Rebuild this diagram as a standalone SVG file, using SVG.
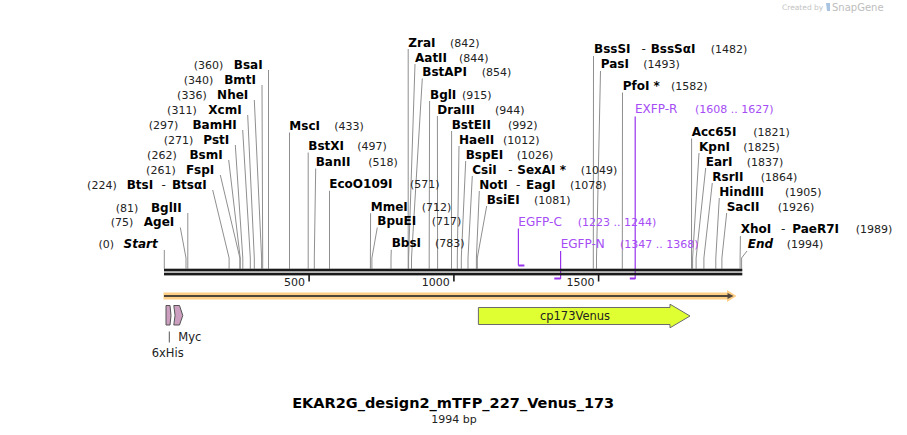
<svg xmlns="http://www.w3.org/2000/svg" width="907" height="435" viewBox="0 0 907 435">
<style>
.n{font-family:"DejaVu Sans",Verdana,sans-serif;font-size:12px;font-weight:bold;fill:#000}
.i{font-style:italic}
.p{font-family:"DejaVu Sans",Verdana,sans-serif;font-size:11px;fill:#222}
.d{font-family:"DejaVu Sans",Verdana,sans-serif;font-size:12px;fill:#222}
.e{text-anchor:end}
.l{stroke:#8f8f8f;stroke-width:1;fill:none}
.pt{font-family:"DejaVu Sans",Verdana,sans-serif;font-size:12px;fill:#A64DF5}
.pn{font-family:"DejaVu Sans",Verdana,sans-serif;font-size:11px;fill:#A64DF5}
.pl{stroke:#9933EE;stroke-width:1.2;fill:none}
.pb{fill:#9933EE}
.ft{font-family:"DejaVu Sans",Verdana,sans-serif;font-size:11.5px;fill:#222}
.tk{font-family:"DejaVu Sans",Verdana,sans-serif;font-size:11px;fill:#222}
</style>
<rect width="907" height="435" fill="#fff"/>
<g id="credit">
<text x="782" y="10" font-family="DejaVu Sans,sans-serif" font-size="7.5" fill="#c4c4c4">Created by</text>
<path d="M826,3 h4 v8 h-3 z" fill="#a9c4e0"/>
<text x="832" y="11" font-family="DejaVu Sans,sans-serif" font-size="10" fill="#bdbdbd">SnapGene</text>
</g>

<!-- connectors -->
<g id="connectors">
<path class="l" d="M164.3,250 V268.7"/>
<path class="l" d="M180.3,227.5 L186,258 V268.7"/>
<path class="l" d="M187.8,213 V268.7"/>
<path class="l" d="M212.7,190 L229.1,258 V268.7"/>
<path class="l" d="M220.3,175 L239.9,258 V268.7"/>
<path class="l" d="M228.7,160 L240.2,258 V268.7"/>
<path class="l" d="M235.3,145 L242.8,258 V268.7"/>
<path class="l" d="M242.7,130 L250.3,258 V268.7"/>
<path class="l" d="M247.7,115 L254.3,258 V268.7"/>
<path class="l" d="M254.3,100 L261.6,258 V268.7"/>
<path class="l" d="M262,85 L262.7,258 V268.7"/>
<path class="l" d="M268.5,70 V268.7"/>
<path class="l" d="M289.5,132.5 V268.7"/>
<path class="l" d="M308.2,152.5 V268.7"/>
<path class="l" d="M315.7,168.5 L314.3,258 V268.7"/>
<path class="l" d="M329.5,190.8 V268.7"/>
<path class="l" d="M370.6,213.2 L370.4,258 V268.7"/>
<path class="l" d="M377.3,227.5 L371.9,258 V268.7"/>
<path class="l" d="M391.3,249.8 L391,258 V268.7"/>
<path class="l" d="M408.2,49 V268.7"/>
<path class="l" d="M415,64 L408.6,258 V268.7"/>
<path class="l" d="M422.3,78.5 L411.5,258 V268.7"/>
<path class="l" d="M429.6,101 L429.2,258 V268.7"/>
<path class="l" d="M437.4,116 L437.6,258 V268.7"/>
<path class="l" d="M451.6,131 L451.5,258 V268.7"/>
<path class="l" d="M459,146 L457.3,258 V268.7"/>
<path class="l" d="M465.7,161 L461.3,258 V268.7"/>
<path class="l" d="M472.3,176 L468,258 V268.7"/>
<path class="l" d="M479.3,191 L476.4,258 V268.7"/>
<path class="l" d="M486.7,206 L477.3,258 V268.7"/>
<path class="l" d="M593.5,56 L593.3,258 V268.7"/>
<path class="l" d="M600.5,71 L596.5,258 V268.7"/>
<path class="l" d="M622.5,92.5 L622.3,258 V268.7"/>
<path class="l" d="M691.6,138.5 L691.5,258 V268.7"/>
<path class="l" d="M699,153 L692.6,258 V268.7"/>
<path class="l" d="M705.7,168 L696.1,258 V268.7"/>
<path class="l" d="M712.3,183 L703.9,258 V268.7"/>
<path class="l" d="M719.3,198 L715.8,258 V268.7"/>
<path class="l" d="M726.7,213 L721.9,258 V268.7"/>
<path class="l" d="M740.4,236 L740.1,258 V268.7"/>
<path class="l" d="M747,251 L741.6,258 V268.7"/>
<path class="pl" d="M518.4,228.5 V265.5"/>
<path class="pl" d="M560.6,251 V279"/>
<path class="pl" d="M635.2,116.5 V279"/>
<line x1="169.3" y1="331.5" x2="169.3" y2="342.5" stroke="#555" stroke-width="1"/>
</g>

<g id="primer-EGFP-C">
<rect class="pb" x="518.4" y="264.5" width="6" height="2"/>
<text class="pt" x="518.3" y="225.7">EGFP-C</text>
<text class="pn" x="577.7" y="225.7">(1223 .. 1244)</text>
</g>
<g id="primer-EGFP-N">
<rect class="pb" x="554.3" y="277.5" width="6.3" height="2"/>
<text class="pt" x="560.7" y="248.3">EGFP-N</text>
<text class="pn" x="620" y="248.3">(1347 .. 1368)</text>
</g>
<g id="primer-EXFP-R">
<rect class="pb" x="629.8" y="277.5" width="5.5" height="2"/>
<text class="pt" x="635" y="113.3">EXFP-R</text>
<text class="pn" x="695" y="113.3">(1608 .. 1627)</text>
</g>

<g id="backbone">
<rect x="164" y="268.7" width="578.3" height="2.7" fill="#1a1a1a"/>
<rect x="164" y="272.7" width="578.3" height="2.7" fill="#1a1a1a"/>
<rect x="308.3" y="275" width="1.6" height="6.5" fill="#1a1a1a"/>
<rect x="453.1" y="275" width="1.6" height="6.5" fill="#1a1a1a"/>
<rect x="597.8" y="275" width="1.6" height="6.5" fill="#1a1a1a"/>
<text class="tk e" x="305" y="285.5">500</text>
<text class="tk e" x="449.8" y="285.5">1000</text>
<text class="tk e" x="594.5" y="285.5">1500</text>
</g>

<!-- left enzyme labels -->
<g id="BsaI"><text class="p e" x="223.3" y="69">(360)</text><text class="n e" x="262.7" y="69">BsaI</text></g>
<g id="BmtI"><text class="p e" x="213.3" y="84">(340)</text><text class="n e" x="256" y="84">BmtI</text></g>
<g id="NheI"><text class="p e" x="206.7" y="99">(336)</text><text class="n e" x="248.3" y="99">NheI</text></g>
<g id="XcmI"><text class="p e" x="196.7" y="114">(311)</text><text class="n e" x="241.7" y="114">XcmI</text></g>
<g id="BamHI"><text class="p e" x="178.3" y="129">(297)</text><text class="n e" x="236.7" y="129">BamHI</text></g>
<g id="PstI"><text class="p e" x="193.3" y="144">(271)</text><text class="n e" x="229.3" y="144">PstI</text></g>
<g id="BsmI"><text class="p e" x="176.7" y="159">(262)</text><text class="n e" x="222.7" y="159">BsmI</text></g>
<g id="FspI"><text class="p e" x="175.7" y="174">(261)</text><text class="n e" x="214.3" y="174">FspI</text></g>
<g id="BtsI"><text class="p e" x="116.7" y="189">(224)</text><text class="n" x="126.7" y="189">BtsI</text><text class="d" x="161.5" y="189">-</text><text class="n e" x="206.7" y="189">BtsαI</text></g>
<g id="BglII"><text class="p e" x="138.3" y="211.7">(81)</text><text class="n e" x="181.7" y="211.7">BglII</text></g>
<g id="AgeI"><text class="p e" x="133.3" y="226.3">(75)</text><text class="n e" x="174.3" y="226.3">AgeI</text></g>
<g id="Start"><text class="p e" x="114" y="248.3">(0)</text><text class="n i e" x="157.7" y="248.3">Start</text></g>

<!-- middle enzyme labels -->
<g id="MscI"><text class="n" x="289.3" y="130">MscI</text><text class="p" x="334.3" y="130">(433)</text></g>
<g id="BstXI"><text class="n" x="308.3" y="150">BstXI</text><text class="p" x="357.3" y="150">(497)</text></g>
<g id="BanII"><text class="n" x="315.7" y="166">BanII</text><text class="p" x="368.3" y="166">(518)</text></g>
<g id="EcoO109I"><text class="n" x="329.3" y="188.3">EcoO109I</text><text class="p" x="410" y="188.3">(571)</text></g>
<g id="MmeI"><text class="n" x="370.7" y="210.7">MmeI</text><text class="p" x="421.7" y="210.7">(712)</text></g>
<g id="BpuEI"><text class="n" x="377.3" y="225">BpuEI</text><text class="p" x="431.7" y="225">(717)</text></g>
<g id="BbsI"><text class="n" x="391.7" y="247.3">BbsI</text><text class="p" x="435" y="247.3">(783)</text></g>
<g id="ZraI"><text class="n" x="408.3" y="46.5">ZraI</text><text class="p" x="450" y="46.5">(842)</text></g>
<g id="AatII"><text class="n" x="415" y="61.5">AatII</text><text class="p" x="459" y="61.5">(844)</text></g>
<g id="BstAPI"><text class="n" x="422.3" y="76">BstAPI</text><text class="p" x="481.7" y="76">(854)</text></g>
<g id="BglI"><text class="n" x="430" y="98.5">BglI</text><text class="p" x="462" y="98.5">(915)</text></g>
<g id="DraIII"><text class="n" x="437.3" y="113.5">DraIII</text><text class="p" x="495" y="113.5">(944)</text></g>
<g id="BstEII"><text class="n" x="451.7" y="128.5">BstEII</text><text class="p" x="508" y="128.5">(992)</text></g>
<g id="HaeII"><text class="n" x="459" y="143.5">HaeII</text><text class="p" x="503" y="143.5">(1012)</text></g>
<g id="BspEI"><text class="n" x="465.7" y="158.5">BspEI</text><text class="p" x="516.7" y="158.5">(1026)</text></g>
<g id="CsiI"><text class="n" x="472.3" y="173.5">CsiI</text><text class="d" x="508.3" y="173.5">-</text><text class="n" x="517.3" y="173.5">SexAI *</text><text class="p" x="580.7" y="173.5">(1049)</text></g>
<g id="NotI"><text class="n" x="479.3" y="188.5">NotI</text><text class="d" x="516" y="188.5">-</text><text class="n" x="526" y="188.5">EagI</text><text class="p" x="570" y="188.5">(1078)</text></g>
<g id="BsiEI"><text class="n" x="486.7" y="203.5">BsiEI</text><text class="p" x="534" y="203.5">(1081)</text></g>

<!-- right enzyme labels -->
<g id="BssSI"><text class="n" x="594" y="53.3">BssSI</text><text class="d" x="641.5" y="53.3">-</text><text class="n" x="650.7" y="53.3">BssSαI</text><text class="p" x="710.7" y="53.3">(1482)</text></g>
<g id="PasI"><text class="n" x="600.7" y="68.3">PasI</text><text class="p" x="643.3" y="68.3">(1493)</text></g>
<g id="PfoI"><text class="n" x="622.7" y="90">PfoI *</text><text class="p" x="671" y="90">(1582)</text></g>
<g id="Acc65I"><text class="n" x="691.7" y="136">Acc65I</text><text class="p" x="753.3" y="136">(1821)</text></g>
<g id="KpnI"><text class="n" x="699" y="150.7">KpnI</text><text class="p" x="743.3" y="150.7">(1825)</text></g>
<g id="EarI"><text class="n" x="705.7" y="165.7">EarI</text><text class="p" x="746.7" y="165.7">(1837)</text></g>
<g id="RsrII"><text class="n" x="712.3" y="180.7">RsrII</text><text class="p" x="760.7" y="180.7">(1864)</text></g>
<g id="HindIII"><text class="n" x="719.3" y="195.7">HindIII</text><text class="p" x="785" y="195.7">(1905)</text></g>
<g id="SacII"><text class="n" x="726.7" y="210.7">SacII</text><text class="p" x="777.7" y="210.7">(1926)</text></g>
<g id="XhoI"><text class="n" x="740.7" y="233.3">XhoI</text><text class="d" x="781" y="233.3">-</text><text class="n" x="792.3" y="233.3">PaeR7I</text><text class="p" x="855.7" y="233.3">(1989)</text></g>
<g id="End"><text class="n i" x="747.7" y="248.3">End</text><text class="p" x="786.7" y="248.3">(1994)</text></g>

<!-- features -->
<g id="orf-arrow">
<path d="M163.5,292.6 H727 V290 L736.5,296 L727,302 V299.4 H163.5 Z" fill="#FFCF86"/>
<line x1="164" y1="296" x2="729" y2="296" stroke="#51463b" stroke-width="2"/>
<path d="M727.5,293 L733.5,296 L727.5,299 Z" fill="#51463b"/>
</g>
<g id="cp173Venus">
<path d="M478.4,307.5 H670 V304.2 L690,316 L670,327.8 V324.5 H478.4 Z" fill="#E0FF33" stroke="#6b6b6b" stroke-width="1"/>
<text class="ft" x="575" y="320" text-anchor="middle">cp173Venus</text>
</g>
<g id="6xHis">
<path d="M166,305.5 H170 Q172,315.5 170,325 H166 Z" fill="#CC9EBF" stroke="#555" stroke-width="1"/>
<text class="ft" x="151.7" y="356.7">6xHis</text>
</g>
<g id="Myc">
<path d="M173.8,305.5 H179.5 L182.8,315.5 L179.5,325 H173.8 Q176.3,315.5 173.8,305.5 Z" fill="#CC9EBF" stroke="#555" stroke-width="1"/>
<text class="ft" x="178.3" y="341">Myc</text>
</g>

<g id="title">
<text x="453.2" y="408" text-anchor="middle" font-family="DejaVu Sans,Verdana,sans-serif" font-size="14.5" font-weight="bold" fill="#000">EKAR2G_design2_mTFP_227_Venus_173</text>
<text x="454" y="423" text-anchor="middle" font-family="DejaVu Sans,Verdana,sans-serif" font-size="11" fill="#222">1994 bp</text>
</g>
</svg>
